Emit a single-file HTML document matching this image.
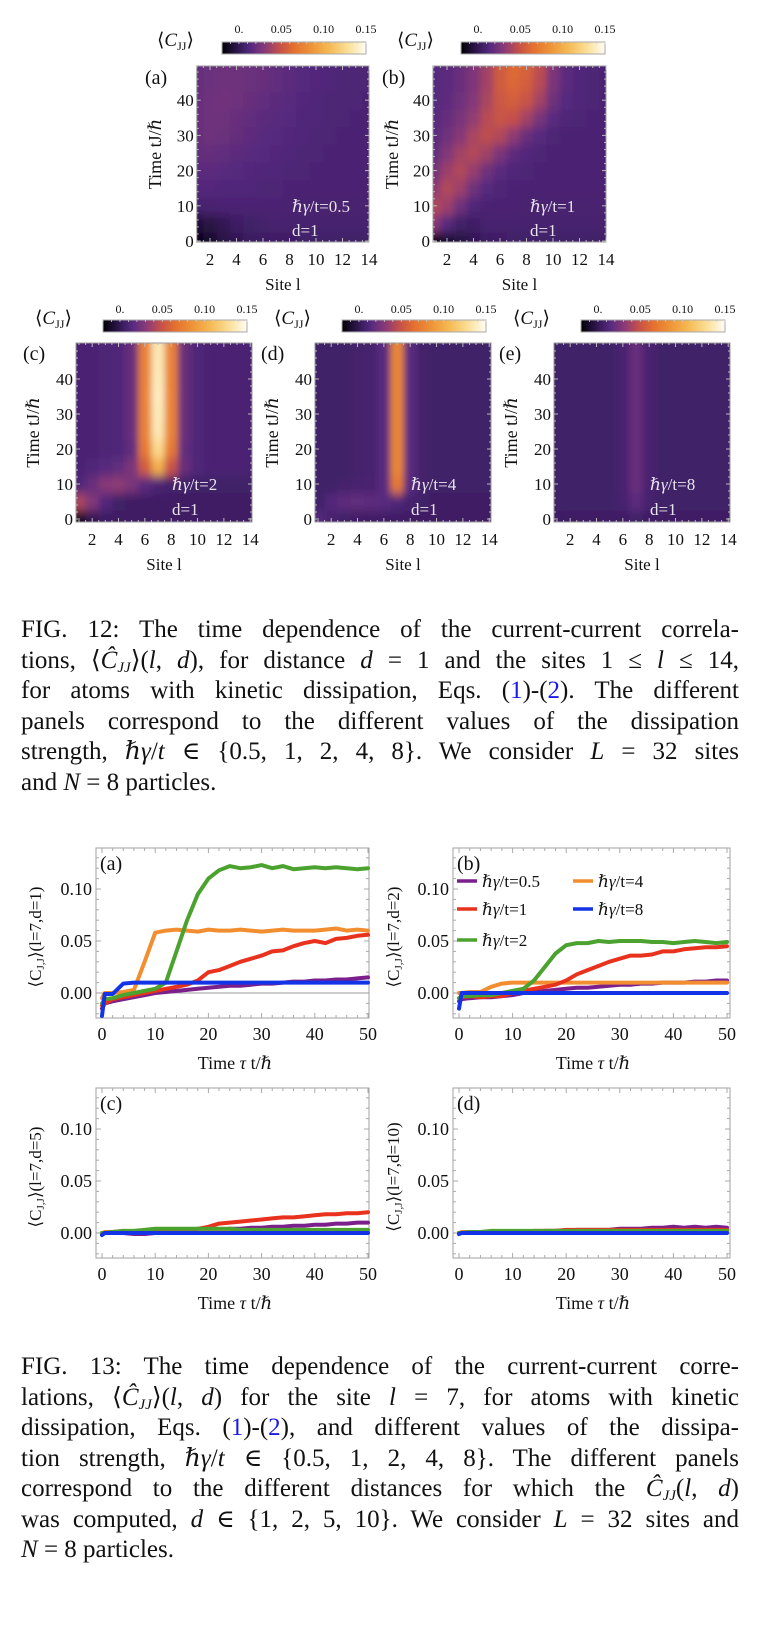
<!DOCTYPE html>
<html><head><meta charset="utf-8">
<style>
html,body{margin:0;padding:0;background:#fff;}
body{width:784px;height:1638px;position:relative;overflow:hidden;font-family:"Liberation Serif",serif;}
svg text{font-family:"Liberation Serif","DejaVu Serif",serif;}
.cap{position:absolute;left:21px;width:718px;font-size:25px;line-height:24px;white-space:nowrap;color:#111;font-family:"Liberation Serif","DejaVu Serif",serif;}
.j{text-align:justify;text-align-last:justify;}
.b{color:#1a1ae6;}
i{font-style:italic;}
sub{font-size:15px;vertical-align:-4px;line-height:0;}
</style></head>
<body>
<svg id="fig" width="784" height="1638" viewBox="0 0 784 1638" xmlns="http://www.w3.org/2000/svg" style="position:absolute;left:0;top:0">
<defs>
<filter id="hblur" x="-20%" y="-20%" width="140%" height="140%"><feGaussianBlur stdDeviation="3.5 5"/></filter>
<linearGradient id="cmap" x1="0" x2="1" y1="0" y2="0"></linearGradient>
</defs>
</svg>

<div class="cap j" style="top:618px">FIG. 12: The time dependence of the current-current correla-</div>
<div class="cap j" style="top:649px">tions, ⟨<i>Ĉ</i><sub><i>JJ</i></sub>⟩(<i>l</i>, <i>d</i>), for distance <i>d</i> = 1 and the sites 1 ≤ <i>l</i> ≤ 14,</div>
<div class="cap j" style="top:679px">for atoms with kinetic dissipation, Eqs. (<span class="b">1</span>)-(<span class="b">2</span>). The different</div>
<div class="cap j" style="top:710px">panels correspond to the different values of the dissipation</div>
<div class="cap j" style="top:740px">strength, <i>ℏγ</i>/<i>t</i> ∈ {0.5, 1, 2, 4, 8}. We consider <i>L</i> = 32 sites</div>
<div class="cap" style="top:771px">and <i>N</i> = 8 particles.</div>

<div class="cap j" style="top:1355px">FIG. 13: The time dependence of the current-current corre-</div>
<div class="cap j" style="top:1386px">lations, ⟨<i>Ĉ</i><sub><i>JJ</i></sub>⟩(<i>l</i>, <i>d</i>) for the site <i>l</i> = 7, for atoms with kinetic</div>
<div class="cap j" style="top:1416px">dissipation, Eqs. (<span class="b">1</span>)-(<span class="b">2</span>), and different values of the dissipa-</div>
<div class="cap j" style="top:1447px">tion strength, <i>ℏγ</i>/<i>t</i> ∈ {0.5, 1, 2, 4, 8}. The different panels</div>
<div class="cap j" style="top:1477px">correspond to the different distances for which the <i>Ĉ</i><sub><i>JJ</i></sub>(<i>l</i>, <i>d</i>)</div>
<div class="cap j" style="top:1508px">was computed, <i>d</i> ∈ {1, 2, 5, 10}. We consider <i>L</i> = 32 sites and</div>
<div class="cap" style="top:1538px"><i>N</i> = 8 particles.</div>

<script>
// ---------- heatmap data (rows t=0,5,...,50; columns site 1..14) ----------
const heatTimes = [0,5,10,15,20,25,30,35,40,45,50];
const heatSites = [1,2,3,4,5,6,7,8,9,10,11,12,13,14];
const heatA = [
[-0.015,-0.01,-0.004,0,0.003,0.004,0.005,0.005,0.006,0.006,0.006,0.006,0.006,0.006],
[-0.006,-0.004,0,0.004,0.006,0.007,0.008,0.008,0.008,0.008,0.008,0.008,0.008,0.008],
[0.008,0.009,0.01,0.01,0.01,0.01,0.01,0.009,0.009,0.009,0.009,0.009,0.009,0.009],
[0.013,0.013,0.012,0.012,0.012,0.011,0.011,0.01,0.01,0.01,0.01,0.01,0.01,0.01],
[0.016,0.016,0.015,0.014,0.013,0.012,0.012,0.011,0.011,0.01,0.01,0.01,0.01,0.01],
[0.018,0.019,0.018,0.016,0.015,0.014,0.013,0.012,0.011,0.011,0.01,0.01,0.01,0.01],
[0.02,0.022,0.021,0.019,0.017,0.015,0.014,0.013,0.012,0.011,0.011,0.01,0.01,0.01],
[0.02,0.022,0.022,0.02,0.018,0.016,0.015,0.014,0.012,0.012,0.011,0.011,0.01,0.01],
[0.02,0.022,0.023,0.022,0.02,0.018,0.016,0.015,0.013,0.012,0.011,0.011,0.011,0.01],
[0.019,0.021,0.022,0.022,0.021,0.02,0.018,0.016,0.014,0.013,0.012,0.011,0.011,0.011],
[0.019,0.021,0.022,0.022,0.021,0.02,0.018,0.016,0.014,0.013,0.012,0.011,0.011,0.011]];
const heatB = [
[-0.018,-0.01,-0.005,0,0.004,0.005,0.006,0.006,0.006,0.006,0.006,0.006,0.006,0.006],
[0.03,0.015,0.006,0.005,0.008,0.008,0.008,0.008,0.008,0.008,0.008,0.008,0.008,0.008],
[0.042,0.036,0.022,0.012,0.01,0.01,0.01,0.009,0.009,0.009,0.009,0.009,0.009,0.009],
[0.032,0.042,0.036,0.022,0.014,0.011,0.01,0.01,0.01,0.01,0.01,0.01,0.01,0.01],
[0.024,0.036,0.042,0.034,0.022,0.015,0.012,0.011,0.01,0.01,0.01,0.01,0.01,0.01],
[0.018,0.028,0.038,0.043,0.037,0.026,0.017,0.013,0.011,0.01,0.01,0.01,0.01,0.01],
[0.016,0.022,0.03,0.04,0.046,0.042,0.032,0.02,0.014,0.011,0.01,0.01,0.01,0.01],
[0.015,0.019,0.025,0.033,0.044,0.05,0.048,0.038,0.025,0.015,0.012,0.011,0.01,0.01],
[0.014,0.017,0.022,0.029,0.04,0.052,0.056,0.05,0.038,0.022,0.014,0.012,0.011,0.01],
[0.014,0.016,0.02,0.027,0.038,0.054,0.06,0.056,0.044,0.026,0.016,0.012,0.011,0.01],
[0.014,0.016,0.02,0.027,0.038,0.054,0.062,0.058,0.046,0.027,0.016,0.012,0.011,0.01]];
const heatC = [
[-0.012,0,0.004,0.005,0.005,0.005,0.005,0.005,0.005,0.005,0.005,0.005,0.005,0.005],
[0.04,0.028,0.013,0.006,0.005,0.005,0.005,0.005,0.005,0.005,0.005,0.005,0.005,0.005],
[0.012,0.02,0.03,0.032,0.026,0.016,0.01,0.007,0.006,0.006,0.006,0.006,0.006,0.006],
[0.01,0.012,0.014,0.018,0.026,0.055,0.1,0.05,0.02,0.012,0.01,0.01,0.01,0.01],
[0.01,0.01,0.011,0.012,0.018,0.07,0.125,0.07,0.018,0.012,0.01,0.01,0.01,0.01],
[0.01,0.01,0.011,0.012,0.02,0.075,0.135,0.075,0.02,0.012,0.01,0.01,0.01,0.01],
[0.01,0.01,0.011,0.012,0.02,0.075,0.137,0.075,0.02,0.012,0.01,0.01,0.01,0.01],
[0.01,0.01,0.011,0.012,0.02,0.076,0.138,0.076,0.02,0.012,0.01,0.01,0.01,0.01],
[0.01,0.01,0.011,0.012,0.02,0.075,0.137,0.075,0.02,0.012,0.01,0.01,0.01,0.01],
[0.01,0.01,0.011,0.012,0.02,0.075,0.136,0.075,0.02,0.012,0.01,0.01,0.01,0.01],
[0.01,0.01,0.011,0.012,0.02,0.075,0.136,0.075,0.02,0.012,0.01,0.01,0.01,0.01]];
const heatD = [
[0.014,0.009,0.006,0.005,0.005,0.005,0.005,0.005,0.005,0.005,0.005,0.005,0.005,0.005],
[0.006,0.013,0.017,0.018,0.017,0.015,0.012,0.008,0.006,0.005,0.005,0.005,0.005,0.005],
[0.006,0.006,0.007,0.008,0.009,0.015,0.07,0.014,0.007,0.006,0.006,0.006,0.006,0.006],
[0.006,0.006,0.006,0.007,0.008,0.015,0.078,0.015,0.007,0.006,0.006,0.006,0.006,0.006],
[0.006,0.006,0.006,0.007,0.008,0.015,0.078,0.015,0.007,0.006,0.006,0.006,0.006,0.006],
[0.006,0.006,0.006,0.007,0.008,0.015,0.078,0.015,0.007,0.006,0.006,0.006,0.006,0.006],
[0.006,0.006,0.006,0.007,0.008,0.015,0.078,0.015,0.007,0.006,0.006,0.006,0.006,0.006],
[0.006,0.006,0.006,0.007,0.008,0.015,0.078,0.015,0.007,0.006,0.006,0.006,0.006,0.006],
[0.006,0.006,0.006,0.007,0.008,0.015,0.078,0.015,0.007,0.006,0.006,0.006,0.006,0.006],
[0.006,0.006,0.006,0.007,0.008,0.015,0.078,0.015,0.007,0.006,0.006,0.006,0.006,0.006],
[0.006,0.006,0.006,0.007,0.008,0.015,0.078,0.015,0.007,0.006,0.006,0.006,0.006,0.006]];
const heatE = [
[0.004,0.005,0.005,0.005,0.005,0.005,0.006,0.005,0.005,0.005,0.005,0.005,0.005,0.005],
[0.006,0.006,0.006,0.006,0.006,0.008,0.016,0.008,0.006,0.006,0.006,0.006,0.006,0.006],
[0.006,0.006,0.006,0.006,0.006,0.009,0.02,0.009,0.006,0.006,0.006,0.006,0.006,0.006],
[0.006,0.006,0.006,0.006,0.006,0.009,0.02,0.009,0.006,0.006,0.006,0.006,0.006,0.006],
[0.006,0.006,0.006,0.006,0.006,0.009,0.02,0.009,0.006,0.006,0.006,0.006,0.006,0.006],
[0.006,0.006,0.006,0.006,0.006,0.009,0.02,0.009,0.006,0.006,0.006,0.006,0.006,0.006],
[0.006,0.006,0.006,0.006,0.006,0.009,0.02,0.009,0.006,0.006,0.006,0.006,0.006,0.006],
[0.006,0.006,0.006,0.006,0.006,0.009,0.02,0.009,0.006,0.006,0.006,0.006,0.006,0.006],
[0.006,0.006,0.006,0.006,0.006,0.009,0.02,0.009,0.006,0.006,0.006,0.006,0.006,0.006],
[0.006,0.006,0.006,0.006,0.006,0.009,0.02,0.009,0.006,0.006,0.006,0.006,0.006,0.006],
[0.006,0.006,0.006,0.006,0.006,0.009,0.02,0.009,0.006,0.006,0.006,0.006,0.006,0.006]];
const heatGammaLabels = ["0.5","1","2","4","8"];
const colorbarTicks = [0,0.05,0.10,0.15];
const colorbarTickLabels = ["0.","0.05","0.10","0.15"];
const heatYTicks = [0,10,20,30,40];
const heatXTicks = [2,4,6,8,10,12,14];

// ---------- line chart data ----------
const times = [0,0.5,2,4,6,8,10,12,14,16,18,20,22,24,26,28,30,32,34,36,38,40,42,44,46,48,50];
const gammaLabels = ["0.5","1","2","4","8"];
const a_g05 = [-0.015,-0.01,-0.008,-0.006,-0.004,-0.002,0,0.001,0.002,0.003,0.004,0.005,0.006,0.007,0.007,0.008,0.009,0.009,0.01,0.011,0.011,0.012,0.012,0.013,0.013,0.014,0.015];
const a_g1 = [-0.012,-0.01,-0.006,-0.004,-0.002,0,0.002,0.004,0.006,0.008,0.012,0.02,0.022,0.026,0.03,0.033,0.036,0.04,0.041,0.045,0.048,0.05,0.048,0.052,0.053,0.055,0.056];
const a_g2 = [-0.01,-0.006,-0.005,-0.002,0,0.002,0.004,0.01,0.04,0.07,0.095,0.11,0.118,0.122,0.12,0.121,0.123,0.12,0.122,0.119,0.12,0.121,0.12,0.121,0.12,0.119,0.12];
const a_g4 = [-0.005,0,0,0.001,0.003,0.03,0.058,0.06,0.061,0.06,0.059,0.061,0.06,0.06,0.061,0.06,0.059,0.06,0.061,0.06,0.06,0.06,0.061,0.062,0.06,0.061,0.06];
const a_g8 = [-0.022,-0.001,-0.001,0.009,0.01,0.01,0.01,0.01,0.01,0.01,0.01,0.01,0.01,0.01,0.01,0.01,0.01,0.01,0.01,0.01,0.01,0.01,0.01,0.01,0.01,0.01,0.01];
const b_g05 = [-0.008,-0.006,-0.005,-0.004,-0.004,-0.003,-0.002,0,0.001,0.002,0.003,0.004,0.005,0.005,0.006,0.007,0.008,0.008,0.009,0.009,0.01,0.01,0.01,0.011,0.011,0.012,0.012];
const b_g1 = [-0.005,-0.004,-0.003,-0.004,-0.003,-0.003,0,0.002,0.004,0.006,0.008,0.012,0.018,0.022,0.026,0.03,0.033,0.036,0.036,0.037,0.04,0.04,0.042,0.043,0.044,0.044,0.045];
const b_g2 = [-0.005,-0.003,-0.003,-0.002,-0.002,0,0.002,0.004,0.012,0.025,0.038,0.046,0.048,0.048,0.05,0.049,0.05,0.05,0.05,0.049,0.049,0.048,0.049,0.05,0.049,0.048,0.049];
const b_g4 = [0,0,0.001,0.001,0.006,0.009,0.01,0.01,0.01,0.01,0.01,0.01,0.01,0.01,0.01,0.01,0.01,0.01,0.01,0.01,0.01,0.01,0.01,0.01,0.01,0.01,0.01];
const b_g8 = [-0.015,0,0,0,0,0,0,0,0,0,0,0,0,0,0,0,0,0,0,0,0,0,0,0,0,0,0];
const c_g05 = [0,0,0,0,-0.001,-0.001,0,0.001,0.001,0.002,0.002,0.003,0.003,0.004,0.004,0.005,0.005,0.006,0.006,0.007,0.007,0.008,0.008,0.009,0.009,0.01,0.01];
const c_g1 = [0,0,0.001,0.002,0.001,0,0.001,0.002,0.002,0.003,0.004,0.006,0.009,0.01,0.011,0.012,0.013,0.014,0.015,0.015,0.016,0.017,0.018,0.018,0.019,0.019,0.02];
const c_g2 = [0,0,0.001,0.002,0.002,0.003,0.004,0.004,0.004,0.004,0.004,0.004,0.004,0.004,0.003,0.003,0.003,0.003,0.003,0.003,0.003,0.003,0.003,0.003,0.003,0.003,0.003];
const c_g4 = [0,0.001,0.001,0.001,0.001,0.001,0.001,0.001,0.001,0.001,0.001,0.001,0.001,0.001,0.001,0.001,0.001,0.001,0.001,0.001,0.001,0.001,0.001,0.001,0.001,0.001,0.001];
const c_g8 = [-0.002,0,0,0,0,0,0,0,0,0,0,0,0,0,0,0,0,0,0,0,0,0,0,0,0,0,0];
const d_g05 = [0,0,0,0.001,0.001,0,0.001,0.001,0.001,0.002,0.002,0.002,0.003,0.003,0.003,0.003,0.004,0.004,0.004,0.005,0.005,0.006,0.005,0.006,0.005,0.006,0.005];
const d_g1 = [0,0,0.001,0.001,0,0.001,0.001,0.001,0.002,0.002,0.002,0.003,0.003,0.003,0.003,0.003,0.003,0.003,0.003,0.003,0.003,0.003,0.003,0.003,0.003,0.003,0.003];
const d_g2 = [0,0,0.001,0.001,0.002,0.002,0.002,0.002,0.002,0.002,0.002,0.002,0.002,0.002,0.002,0.002,0.002,0.002,0.002,0.002,0.002,0.002,0.002,0.002,0.002,0.002,0.002];
const d_g4 = [0,0.001,0.001,0.001,0.001,0.001,0.001,0.001,0.001,0.001,0.001,0.001,0.001,0.001,0.001,0.001,0.001,0.001,0.001,0.001,0.001,0.001,0.001,0.001,0.001,0.001,0.001];
const d_g8 = [-0.001,0,0,0,0,0,0,0,0,0,0,0,0,0,0,0,0,0,0,0,0,0,0,0,0,0,0];
const lineYTicks = [0,0.05,0.10];
const lineYTickLabels = ["0.00","0.05","0.10"];
const lineXTicks = [0,10,20,30,40,50];

const NS = 'http://www.w3.org/2000/svg';
const svg = document.getElementById('fig');
function mk(tag, attrs, parent, name) {
  const el = document.createElementNS(NS, tag);
  for (const k in attrs) el.setAttribute(k, attrs[k]);
  
  
  parent.appendChild(el);
  return el;
}
function txt(x, y, s, size, anchor, parent, name, extra) {
  const el = document.createElementNS(NS, 'text');
  el.setAttribute('x', x); el.setAttribute('y', y);
  el.setAttribute('font-size', size);
  el.setAttribute('text-anchor', anchor);
  el.setAttribute('fill', '#111');
  if (extra) for (const k in extra) el.setAttribute(k, extra[k]);
  el.innerHTML = s;
  
  
  parent.appendChild(el);
  return el;
}

// colormap
const cstops = [[0,'#000000'],[0.06,'#1a0c2e'],[0.14,'#3c1d62'],[0.2,'#55297e'],[0.3,'#8a3a78'],[0.4,'#c4504a'],[0.5,'#e47030'],[0.62,'#ee9438'],[0.75,'#f5bb55'],[0.88,'#fbe09a'],[1,'#fffdf4']];
const VMIN = -0.02, VMAX = 0.15;
function hex2rgb(h){return [parseInt(h.substr(1,2),16),parseInt(h.substr(3,2),16),parseInt(h.substr(5,2),16)];}
function cmap(v) {
  let f = (v - VMIN) / (VMAX - VMIN); f = Math.max(0, Math.min(1, f));
  for (let i = 1; i < cstops.length; i++) {
    if (f <= cstops[i][0]) {
      const a = cstops[i-1], b = cstops[i], u = (f - a[0]) / (b[0] - a[0]);
      const ca = hex2rgb(a[1]), cb = hex2rgb(b[1]);
      return 'rgb(' + ca.map((c, k) => Math.round(c + (cb[k] - c) * u)).join(',') + ')';
    }
  }
  return cstops[cstops.length-1][1];
}
const grad = document.getElementById('cmap');
cstops.forEach(s => { const st = document.createElementNS(NS,'stop'); st.setAttribute('offset', s[0]); st.setAttribute('stop-color', s[1]); grad.appendChild(st); });

const defs = svg.querySelector('defs');
const heatData = [heatA, heatB, heatC, heatD, heatE];
const heatPanels = [
  {L:196.75,R:369,T:66,B:242,x1:196.75,ux:13.25,y0:241,uy:3.52,lab:'(a)',labX:145,labY:84,cbX:222,cbY:42,cbLabY:33,cjX:157,cjY:46,ytitX:155,txtX:292,txtY1:212,txtY2:236},
  {L:433,R:606,T:66,B:242,x1:433.75,ux:13.25,y0:241,uy:3.52,lab:'(b)',labX:382,labY:84,cbX:461,cbY:42,cbLabY:33,cjX:397,cjY:46,ytitX:392,txtX:530,txtY1:212,txtY2:236},
  {L:76,R:252,T:343,B:522,x1:79,ux:13.17,y0:519,uy:3.5,lab:'(c)',labX:23,labY:360,cbX:103,cbY:320,cbLabY:313,cjX:35,cjY:324,ytitX:33,txtX:172,txtY1:490,txtY2:515},
  {L:315,R:491,T:343,B:522,x1:318,ux:13.17,y0:519,uy:3.5,lab:'(d)',labX:261,labY:360,cbX:342,cbY:320,cbLabY:313,cjX:274,cjY:324,ytitX:272,txtX:411,txtY1:490,txtY2:515},
  {L:554,R:730,T:343,B:522,x1:557,ux:13.17,y0:519,uy:3.5,lab:'(e)',labX:499,labY:360,cbX:581,cbY:320,cbLabY:313,cjX:513,cjY:324,ytitX:511,txtX:650,txtY1:490,txtY2:515}
];
heatPanels.forEach((p, pi) => {
  const data = heatData[pi];
  const xs = s => p.x1 + (s - 1) * p.ux;
  const ys = t => p.y0 - t * p.uy;
  const g = mk('g', {}, svg, 'heatmap-panel-' + 'abcde'[pi]);
  const cp = mk('clipPath', {id: 'clip' + pi}, defs, 'heatmap-clip');
  mk('rect', {x: p.L, y: p.T, width: p.R - p.L, height: p.B - p.T}, cp, 'heatmap-clip-rect');
  const clipG = mk('g', {'clip-path': 'url(#clip' + pi + ')'}, g, 'heatmap-plot-area');
  mk('rect', {x: p.L, y: p.T, width: p.R - p.L, height: p.B - p.T, fill: cmap(data[data.length-1][13])}, clipG, 'heatmap-background');
  const cells = mk('g', {filter: 'url(#hblur)'}, clipG, 'heatmap-cells');
  data.forEach((row, ri) => {
    const t = heatTimes[ri];
    let t0 = t - 2.5, t1 = t + 2.5;
    if (ri === 0) t0 = -8;
    if (ri === data.length - 1) t1 = 60;
    row.forEach((v, ci) => {
      const s = heatSites[ci];
      let s0 = s - 0.5, s1 = s + 0.5;
      if (ci === 0) s0 = -1;
      if (ci === row.length - 1) s1 = 16;
      const r = mk('rect', {x: xs(s0), y: ys(t1), width: xs(s1) - xs(s0) + 0.6, height: ys(t0) - ys(t1) + 0.6, fill: cmap(v)}, cells, 'heatmap-cell');
    });
  });
  mk('rect', {x: p.L, y: p.T, width: p.R - p.L, height: p.B - p.T, fill: 'none', stroke: '#9a9a9a', 'stroke-width': 1}, g, 'heatmap-frame');
  for (let t = 0; t <= 48; t += 2) {
    const len = (t % 10 === 0) ? 4 : 2;
    mk('line', {x1: p.L, x2: p.L + len, y1: ys(t), y2: ys(t), stroke: '#bbb', 'stroke-width': 1}, g, 'y-tick');
    mk('line', {x1: p.R, x2: p.R - len, y1: ys(t), y2: ys(t), stroke: '#bbb', 'stroke-width': 1}, g, 'y-tick');
  }
  for (let s = 1; s <= 14; s += 0.5) {
    const len = (s % 2 === 0) ? 4 : 2;
    mk('line', {x1: xs(s), x2: xs(s), y1: p.B, y2: p.B - len, stroke: '#bbb', 'stroke-width': 1}, g, 'x-tick');
    mk('line', {x1: xs(s), x2: xs(s), y1: p.T, y2: p.T + len, stroke: '#bbb', 'stroke-width': 1}, g, 'x-tick');
  }
  heatYTicks.forEach(t => txt(p.L - 3, ys(t) + 6, String(t), 17, 'end', g, 'y-tick-label'));
  heatXTicks.forEach(s => txt(xs(s), p.B + 23, String(s), 17, 'middle', g, 'x-tick-label'));
  txt((p.L + p.R) / 2, p.B + 48, 'Site l', 17, 'middle', g, 'x-axis-title');
  txt(0, 0, 'Time tJ/ℏ', 18, 'middle', g, 'y-axis-title', {transform: 'translate(' + (p.ytitX + 6) + ',' + ((p.T + p.B) / 2) + ') rotate(-90)'});
  txt(p.labX, p.labY, p.lab, 20, 'start', g, 'panel-label');
  txt(p.txtX, p.txtY1, '<tspan font-style="italic">ℏγ</tspan>/t=' + heatGammaLabels[pi], 17, 'start', g, 'gamma-annotation', {fill: '#e8e4ec'});
  txt(p.txtX, p.txtY2, 'd=1', 17, 'start', g, 'distance-annotation', {fill: '#e8e4ec'});
  const cbW = 144, cbH = 12;
  mk('rect', {x: p.cbX, y: p.cbY, width: cbW, height: cbH, fill: 'url(#cmap)', stroke: '#aaa', 'stroke-width': 1}, g, 'colorbar');
  for (let v = -0.02; v <= 0.1501; v += 0.01) {
    const x = p.cbX + (v - VMIN) / (VMAX - VMIN) * cbW;
    mk('line', {x1: x, x2: x, y1: p.cbY, y2: p.cbY + 2, stroke: '#ccc', 'stroke-width': 0.8}, g, 'colorbar-tick');
  }
  colorbarTicks.forEach((v, i) => {
    const x = p.cbX + (v - VMIN) / (VMAX - VMIN) * cbW;
    txt(x, p.cbLabY, colorbarTickLabels[i], 12, 'middle', g, 'colorbar-tick-label');
  });
  txt(p.cjX, p.cjY, '⟨<tspan font-style="italic">C</tspan><tspan font-size="12" dy="4">JJ</tspan><tspan dy="-4">⟩</tspan>', 19, 'start', g, 'colorbar-title');
});

// ---------- line charts ----------
const seriesColors = ['#7a1f8c', '#e8321e', '#4ba22e', '#f28e2f', '#1433e6'];
const panelSeries = [
  [a_g05, a_g1, a_g2, a_g4, a_g8],
  [b_g05, b_g1, b_g2, b_g4, b_g8],
  [c_g05, c_g1, c_g2, c_g4, c_g8],
  [d_g05, d_g1, d_g2, d_g4, d_g8]
];
const drawOrder = [0, 3, 1, 2, 4];
const linePanels = [
  {L:96,R:369,T:848,B:1018,x0:102,ux:5.32,y0:993,lab:'(a)',d:'1',ytitX:35},
  {L:453,R:730,T:848,B:1018,x0:459,ux:5.36,y0:993,lab:'(b)',d:'2',ytitX:393},
  {L:96,R:369,T:1088,B:1258,x0:102,ux:5.32,y0:1233,lab:'(c)',d:'5',ytitX:35},
  {L:453,R:730,T:1088,B:1258,x0:459,ux:5.36,y0:1233,lab:'(d)',d:'10',ytitX:393}
];
linePanels.forEach((p, pi) => {
  const xs = t => p.x0 + t * p.ux;
  const ys = v => p.y0 - v * 1040;
  const g = mk('g', {}, svg, 'line-chart-' + 'abcd'[pi]);
  mk('rect', {x: p.L, y: p.T, width: p.R - p.L, height: p.B - p.T, fill: '#fff', stroke: '#a0a0a0', 'stroke-width': 1}, g, 'plot-frame');
  for (let t = 0; t <= 50; t += 2) {
    const len = (t % 10 === 0) ? 5 : 3;
    mk('line', {x1: xs(t), x2: xs(t), y1: p.B, y2: p.B - len, stroke: '#aaa', 'stroke-width': 1}, g, 'x-tick');
    mk('line', {x1: xs(t), x2: xs(t), y1: p.T, y2: p.T + len, stroke: '#aaa', 'stroke-width': 1}, g, 'x-tick');
  }
  for (let v = -0.02; v <= 0.1301; v += 0.01) {
    const major = Math.abs(Math.round(v * 100) % 5) === 0;
    const len = major ? 5 : 3;
    mk('line', {x1: p.L, x2: p.L + len, y1: ys(v), y2: ys(v), stroke: '#aaa', 'stroke-width': 1}, g, 'y-tick');
    mk('line', {x1: p.R, x2: p.R - len, y1: ys(v), y2: ys(v), stroke: '#aaa', 'stroke-width': 1}, g, 'y-tick');
  }
  mk('line', {x1: p.L, x2: p.R, y1: ys(0), y2: ys(0), stroke: '#999', 'stroke-width': 1}, g, 'zero-line');
  lineYTicks.forEach((v, i) => txt(p.L - 4, ys(v) + 6, lineYTickLabels[i], 18, 'end', g, 'y-tick-label'));
  lineXTicks.forEach(t => txt(xs(t), p.B + 22, String(t), 18, 'middle', g, 'x-tick-label'));
  txt((xs(0) + xs(50)) / 2, p.B + 51, 'Time <tspan font-style="italic">τ</tspan> t/ℏ', 18, 'middle', g, 'x-axis-title');
  txt(0, 0, '⟨C<tspan font-size="11" dy="3">J,J</tspan><tspan dy="-3">⟩(l=7,d=' + p.d + ')</tspan>', 17, 'middle', g, 'y-axis-title', {transform: 'translate(' + (p.ytitX + 6) + ',' + ((p.T + p.B) / 2 + 4) + ') rotate(-90)'});
  const series = panelSeries[pi];
  drawOrder.forEach(si => {
    const vals = series[si];
    const pts = times.map((t, i) => xs(t).toFixed(1) + ',' + ys(vals[i]).toFixed(1)).join(' ');
    mk('polyline', {points: pts, fill: 'none', stroke: seriesColors[si], 'stroke-width': 4, 'stroke-linejoin': 'round', 'stroke-linecap': 'round'}, g, 'series-gamma-' + gammaLabels[si]);
  });
  txt(p.L + 4, p.T + 22, p.lab, 20, 'start', g, 'panel-label');
});

const legendPos = [[457,881],[457,909],[457,940],[573,881],[573,909]];
const lg = mk('g', {}, svg, 'legend');
gammaLabels.forEach((lab, i) => {
  const [lx, ly] = legendPos[i];
  mk('line', {x1: lx, x2: lx + 20, y1: ly, y2: ly, stroke: seriesColors[i], 'stroke-width': 3.6}, lg, 'legend-swatch');
  txt(lx + 25, ly + 6, '<tspan font-style="italic">ℏγ</tspan>/t=' + lab, 17, 'start', lg, 'legend-entry');
});
</script>
</body></html>
